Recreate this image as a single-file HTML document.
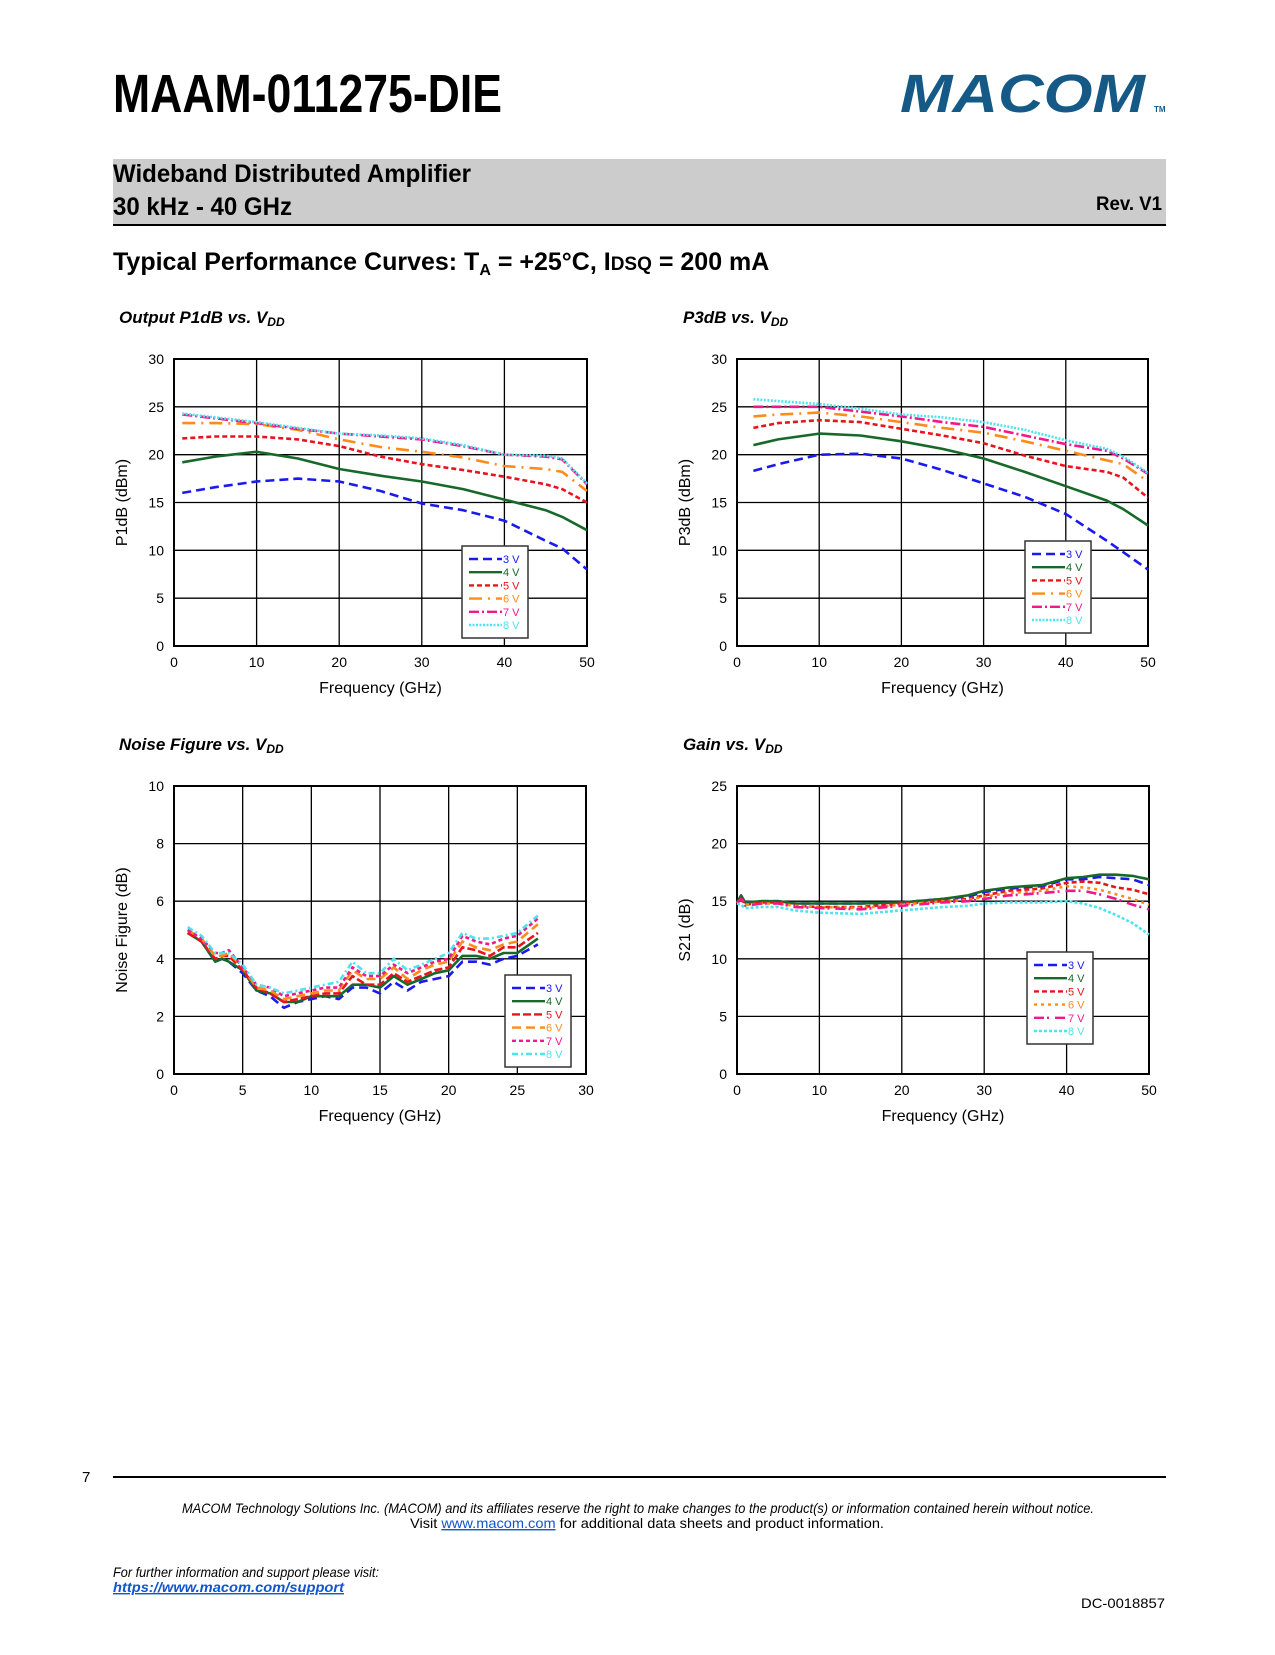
<!DOCTYPE html>
<html><head><meta charset="utf-8">
<style>
html,body{margin:0;padding:0;background:#fff;}
body{width:1275px;height:1650px;overflow:hidden;font-family:"Liberation Sans",sans-serif;}
svg text{font-family:"Liberation Sans",sans-serif;}
</style></head>
<body>
<svg id="page" width="1275" height="1650" viewBox="0 0 1275 1650" xmlns="http://www.w3.org/2000/svg">
  <text x="113" y="112" font-size="54" font-weight="bold" textLength="389" lengthAdjust="spacingAndGlyphs">MAAM-011275-DIE</text>
  <g>
    <text x="900" y="112" font-size="54" font-weight="bold" font-style="italic" fill="#155a86" textLength="245" lengthAdjust="spacingAndGlyphs">MACOM</text>
    <text x="1154" y="112" font-size="8" font-weight="bold" fill="#155a86">TM</text>
  </g>
  <rect x="113" y="159" width="1053" height="66" fill="#cccccc"/>
  <line x1="113" y1="225" x2="1166" y2="225" stroke="#000" stroke-width="2"/>
  <text x="113" y="182" font-size="25" font-weight="bold" textLength="358" lengthAdjust="spacingAndGlyphs">Wideband Distributed Amplifier</text>
  <text x="113" y="215" font-size="25" font-weight="bold" textLength="179" lengthAdjust="spacingAndGlyphs">30 kHz - 40 GHz</text>
  <text x="1162" y="210" font-size="19" font-weight="bold" text-anchor="end" textLength="66" lengthAdjust="spacingAndGlyphs">Rev.  V1</text>
  <text x="113" y="270" font-size="25" font-weight="bold">Typical Performance Curves: T<tspan font-size="16" dy="5">A</tspan><tspan dy="-5"> = +25°C, I</tspan><tspan font-size="19">DSQ</tspan> = 200 mA</text>

  <g id="charts"></g>

  <text x="82" y="1482" font-size="15">7</text>
  <line x1="113" y1="1477" x2="1166" y2="1477" stroke="#000" stroke-width="2"/>
  <text x="638" y="1513" font-size="14" font-style="italic" text-anchor="middle" textLength="912" lengthAdjust="spacingAndGlyphs">MACOM Technology Solutions Inc. (MACOM) and its affiliates reserve the right to make changes to the product(s) or information contained herein without notice.</text>
  <text x="647" y="1528" font-size="14" text-anchor="middle" textLength="474" lengthAdjust="spacingAndGlyphs">Visit <tspan fill="#1155cc" text-decoration="underline">www.macom.com</tspan> for additional data sheets and product information.</text>
  <text x="113" y="1577" font-size="14" font-style="italic" textLength="266" lengthAdjust="spacingAndGlyphs">For further information and support please visit:</text>
  <text x="113" y="1592" font-size="14" font-style="italic" font-weight="bold" fill="#1155cc" text-decoration="underline" textLength="231" lengthAdjust="spacingAndGlyphs">https://www.macom.com/support</text>
  <text x="1165" y="1608" font-size="14" text-anchor="end" textLength="84" lengthAdjust="spacingAndGlyphs">DC-0018857</text>
</svg>
<script>
// ---- Chart data ----
const seriesLabels = ["3 V","4 V","5 V","6 V","7 V","8 V"];

const p1Freq = [1,5,10,15,20,25,30,35,40,45,47,50];
const p1_3V = [16.0,16.6,17.2,17.5,17.2,16.2,14.9,14.2,13.1,11.0,10.2,8.0];
const p1_4V = [19.2,19.8,20.3,19.6,18.5,17.8,17.2,16.4,15.3,14.2,13.5,12.1];
const p1_5V = [21.7,21.9,21.9,21.6,20.9,19.8,19.0,18.4,17.7,16.9,16.4,15.0];
const p1_6V = [23.3,23.3,23.2,22.6,21.6,20.8,20.3,19.7,18.8,18.5,18.2,16.2];
const p1_7V = [24.2,23.8,23.3,22.7,22.2,21.9,21.6,20.9,20.0,19.8,19.5,16.9];
const p1_8V = [24.3,23.9,23.4,22.8,22.2,22.0,21.7,21.0,20.0,19.9,19.6,17.0];

const p3Freq = [2,5,10,15,20,25,30,35,40,45,47,50];
const p3_3V = [18.3,19.0,20.0,20.1,19.6,18.4,17.0,15.6,13.8,11.0,9.8,8.0];
const p3_4V = [21.0,21.6,22.2,22.0,21.4,20.6,19.6,18.2,16.7,15.2,14.3,12.6];
const p3_5V = [22.8,23.3,23.6,23.4,22.7,22.0,21.2,19.9,18.8,18.2,17.6,15.5];
const p3_6V = [24.0,24.2,24.4,24.0,23.4,22.8,22.3,21.4,20.4,19.4,19.0,17.2];
const p3_7V = [25.0,25.0,25.0,24.5,24.0,23.4,22.9,22.0,21.1,20.4,19.6,18.0];
const p3_8V = [25.8,25.6,25.3,24.8,24.2,23.9,23.4,22.6,21.5,20.6,19.8,18.1];

const nfFreq = [1,2,3,3.5,4,5,6,7,8,9,10,11,12,13,14,15,16,17,18,19,20,21,22,23,24,25,26.5];
const nf_3V = [4.9,4.6,3.9,4.0,3.9,3.5,2.9,2.7,2.3,2.5,2.6,2.7,2.6,3.0,3.0,2.8,3.2,2.9,3.2,3.3,3.4,3.9,3.9,3.8,4.0,4.1,4.5];
const nf_4V = [4.9,4.6,3.9,4.0,3.9,3.6,2.9,2.8,2.5,2.5,2.7,2.7,2.7,3.1,3.1,3.0,3.4,3.1,3.3,3.5,3.6,4.1,4.1,4.0,4.2,4.2,4.7];
const nf_5V = [4.9,4.6,4.0,4.1,4.1,3.6,3.0,2.8,2.5,2.6,2.7,2.8,2.8,3.4,3.1,3.1,3.5,3.2,3.4,3.6,3.7,4.4,4.3,4.1,4.4,4.4,4.9];
const nf_6V = [5.0,4.7,4.1,4.1,4.2,3.7,3.0,2.9,2.6,2.7,2.8,2.9,2.9,3.6,3.3,3.3,3.7,3.3,3.6,3.8,3.9,4.6,4.4,4.3,4.5,4.6,5.2];
const nf_7V = [5.0,4.7,4.2,4.2,4.3,3.7,3.1,3.0,2.7,2.8,2.9,3.0,3.0,3.7,3.4,3.4,3.8,3.5,3.7,3.9,4.0,4.8,4.6,4.5,4.7,4.8,5.4];
const nf_8V = [5.1,4.8,4.2,4.2,4.2,3.8,3.1,3.0,2.8,2.9,3.0,3.1,3.2,3.9,3.5,3.5,4.0,3.6,3.8,4.0,4.2,4.9,4.7,4.7,4.8,4.9,5.5];

const gFreq = [0,0.5,1,3,5,7,10,15,20,25,28,30,33,35,37,40,42,44,46,48,50];
const g_3V = [14.9,15.4,14.9,15.0,15.0,14.8,14.8,14.8,14.9,15.2,15.4,15.8,16.1,16.2,16.3,16.9,16.9,17.1,17.0,16.9,16.4];
const g_4V = [14.9,15.5,14.9,15.0,15.0,14.8,14.8,14.8,14.9,15.2,15.5,15.9,16.2,16.3,16.4,17.0,17.1,17.3,17.3,17.2,16.9];
const g_5V = [14.8,15.3,14.7,14.9,14.9,14.6,14.5,14.5,14.8,15.0,15.2,15.5,15.9,16.0,16.1,16.6,16.7,16.6,16.2,16.0,15.6];
const g_6V = [14.8,15.2,14.7,14.8,14.8,14.6,14.5,14.4,14.7,15.0,15.1,15.4,15.7,15.8,15.9,16.3,16.2,16.0,15.6,15.2,14.7];
const g_7V = [14.8,15.2,14.6,14.8,14.8,14.5,14.4,14.3,14.6,14.9,15.0,15.2,15.5,15.6,15.7,15.9,15.9,15.6,15.2,14.7,14.3];
const g_8V = [14.8,14.7,14.4,14.5,14.5,14.2,14.0,13.9,14.2,14.5,14.6,14.8,14.9,14.9,14.9,15.0,14.8,14.4,13.8,13.1,12.1];

const xTicks50 = [0,10,20,30,40,50];
const xTicks30 = [0,5,10,15,20,25,30];
const yTicks30 = [0,5,10,15,20,25,30];
const yTicks10 = [0,2,4,6,8,10];
const yTicks25 = [0,5,10,15,20,25];

const colors = ["#1a1aee","#17692a","#e8141c","#ff8c1a","#f0188c","#4fe3f0"];
const NS = "http://www.w3.org/2000/svg";

function mk(tag, attrs, parent){
  const e = document.createElementNS(NS, tag);
  for (const k in attrs) e.setAttribute(k, attrs[k]);
  if (parent) parent.appendChild(e);
  return e;
}

function drawChart(cfg){
  const root = document.getElementById('charts');
  const g = mk('g', {}, root);
  
  
  const L=cfg.l, R=cfg.r, T=cfg.t, B=cfg.b;
  const xs = v => L + (v - cfg.xMin)/(cfg.xMax - cfg.xMin)*(R-L);
  const ys = v => B - (v - cfg.yMin)/(cfg.yMax - cfg.yMin)*(B-T);

  const title = mk('text', {x:cfg.titleX, y:T-36, 'font-size':17, 'font-weight':'bold', 'font-style':'italic'}, g);
  
  
  title.textContent = cfg.title;
  const sub = mk('tspan', {'font-size':12, dy:3}, title); sub.textContent = 'DD';

  mk('rect', {x:L, y:T, width:R-L, height:B-T, fill:'#fff'}, g);
  cfg.xTicks.forEach(v => {
    const gl = mk('line', {x1:xs(v), y1:T, x2:xs(v), y2:B, stroke:'#000', 'stroke-width':1.3}, g);
    
    
    const t = mk('text', {x:xs(v), y:B+21, 'font-size':14, 'text-anchor':'middle'}, g);
    
    
    t.textContent = v;
  });
  cfg.yTicks.forEach(v => {
    const gl = mk('line', {x1:L, y1:ys(v), x2:R, y2:ys(v), stroke:'#000', 'stroke-width':1.3}, g);
    
    
    const t = mk('text', {x:L-10, y:ys(v)+5, 'font-size':14, 'text-anchor':'end'}, g);
    
    
    t.textContent = v;
  });
  const frame = mk('rect', {x:L, y:T, width:R-L, height:B-T, fill:'none', stroke:'#000', 'stroke-width':2}, g);
  
  

  const xt = mk('text', {x:(L+R)/2, y:B+47, 'font-size':16, 'text-anchor':'middle'}, g);
  
  
  xt.textContent = 'Frequency (GHz)';
  const yt = mk('text', {x:0, y:0, 'font-size':16, 'text-anchor':'middle', transform:`translate(${cfg.ytX},${(T+B)/2}) rotate(-90)`}, g);
  
  
  yt.textContent = cfg.yTitle;

  cfg.series.forEach((vals, i) => {
    const pts = vals.map((v, j) => xs(cfg.freq[j]).toFixed(1) + ',' + ys(v).toFixed(1)).join(' ');
    const pl = mk('polyline', {points:pts, fill:'none', stroke:colors[i], 'stroke-width':2.6, 'stroke-dasharray':cfg.dashes[i], 'stroke-linejoin':'round'}, g);
    
    
  });

  const lg = mk('g', {}, g);
  
  
  const lx = cfg.lg[0], ly = cfg.lg[1];
  mk('rect', {x:lx, y:ly, width:66, height:92, fill:'#fff', stroke:'#333', 'stroke-width':1.5}, lg);
  seriesLabels.forEach((lab, i) => {
    const yy = ly + 13 + i*13.2;
    const ln = mk('line', {x1:lx+7, y1:yy, x2:lx+40, y2:yy, stroke:colors[i], 'stroke-width':2.4, 'stroke-dasharray':cfg.dashes[i]}, lg);
    
    
    const t = mk('text', {x:lx+41, y:yy+4, 'font-size':11, fill:colors[i]}, lg);
    
    
    t.textContent = lab;
  });
}

const dashA = ["9 5","","5 3","13 6 2 6","10 3 2 3","2 1.5"];
const dashNF = ["9 5","","8 3","9 5","4 3","6 3 2 3"];
const dashG = ["9 5","","5 3","3 4","10 3 2 6","3 2"];

drawChart({name:'output-p1db-chart', title:'Output P1dB vs. V', l:174, r:587, t:359, b:646, xMin:0, xMax:50, yMin:0, yMax:30,
  xTicks:xTicks50, yTicks:yTicks30, yTitle:'P1dB (dBm)', ytX:127, titleX:119, freq:p1Freq,
  series:[p1_3V,p1_4V,p1_5V,p1_6V,p1_7V,p1_8V], dashes:dashA, lg:[462,546]});
drawChart({name:'p3db-chart', title:'P3dB vs. V', l:737, r:1148, t:359, b:646, xMin:0, xMax:50, yMin:0, yMax:30,
  xTicks:xTicks50, yTicks:yTicks30, yTitle:'P3dB (dBm)', ytX:690, titleX:683, freq:p3Freq,
  series:[p3_3V,p3_4V,p3_5V,p3_6V,p3_7V,p3_8V], dashes:dashA, lg:[1025,541]});
drawChart({name:'noise-figure-chart', title:'Noise Figure vs. V', l:174, r:586, t:786, b:1074, xMin:0, xMax:30, yMin:0, yMax:10,
  xTicks:xTicks30, yTicks:yTicks10, yTitle:'Noise Figure (dB)', ytX:127, titleX:119, freq:nfFreq,
  series:[nf_3V,nf_4V,nf_5V,nf_6V,nf_7V,nf_8V], dashes:dashNF, lg:[505,975]});
drawChart({name:'gain-chart', title:'Gain vs. V', l:737, r:1149, t:786, b:1074, xMin:0, xMax:50, yMin:0, yMax:25,
  xTicks:xTicks50, yTicks:yTicks25, yTitle:'S21 (dB)', ytX:690, titleX:683, freq:gFreq,
  series:[g_3V,g_4V,g_5V,g_6V,g_7V,g_8V], dashes:dashG, lg:[1027,952]});
</script>
</body></html>
